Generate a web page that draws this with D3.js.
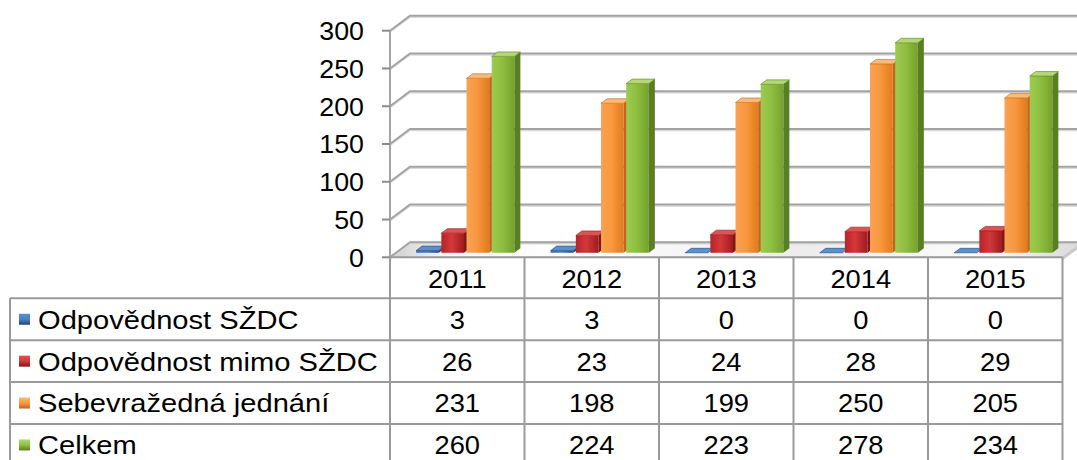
<!DOCTYPE html>
<html>
<head>
<meta charset="utf-8">
<script src="https://cdn.jsdelivr.net/npm/d3@7"></script>
<style>
  html, body { margin: 0; padding: 0; background: #fff; }
  svg { display: block; font-family: "Liberation Sans", Arial, sans-serif; }
</style>
</head>
<body>
<svg id="chart" width="1077" height="460"></svg>
<script>
const years = ['2011', '2012', '2013', '2014', '2015'];
const seriesNames = ['Odpovědnost SŽDC', 'Odpovědnost mimo SŽDC', 'Sebevražedná jednání', 'Celkem'];
const odpSzdc = [3, 3, 0, 0, 0];
const odpMimo = [26, 23, 24, 28, 29];
const sebevrazedna = [231, 198, 199, 250, 205];
const celkem = [260, 224, 223, 278, 234];
const yTicks = [0, 50, 100, 150, 200, 250, 300];

const seriesValues = [odpSzdc, odpMimo, sebevrazedna, celkem];

// office-2007 style shades: front gradient (left, mid, right), side, top
const shades = [
  { front: ['#3b6fb0', '#4a80c2', '#255391'], side: '#1e4477', top: '#5c8fcd' },
  { front: ['#b82327', '#d3393b', '#a01b1e'], side: '#84161a', top: '#dc5552' },
  { front: ['#f7a253', '#f8983f', '#e27b1c'], side: '#c3661a', top: '#fbb97a' },
  { front: ['#9ccb50', '#8fbf40', '#76a22c'], side: '#587f22', top: '#b3d874' }
];

const svg = d3.select('#chart');
const defs = svg.append('defs');

// layout
const plotLeft = 390, plotRight = 1062.5;
const DX = 20, DY = -15;          // depth offset of the back wall
const barZ0 = 0.3, barZ1 = 0.6;   // bar depth inside the floor
const tableLeft = 10;
const headerTop = 257.3;
const rowTop = 298.3, rowH = 41.9;

const x = d3.scaleBand().domain(years).range([plotLeft, plotRight]);
const bw = x.bandwidth();
const xs = d3.scaleBand().domain(seriesNames).range([0.15 * bw, 0.88 * bw]).paddingInner(0.1);
const y = d3.scaleLinear().domain([0, 300]).range([257.3, 30.7]);

// oblique projection
const P = (px, v, z) => [px + z * DX, y(v) + z * DY];
const poly = pts => 'M' + pts.map(p => p.join(',')).join('L') + 'Z';

// stretched text helper (reference text is a bit wider than normal)
function label(g, text, tx, ty, anchor, size, sx) {
  return g.append('text')
    .attr('transform', `translate(${tx},${ty}) scale(${sx},1)`)
    .attr('text-anchor', anchor)
    .attr('dy', '0.36em')
    .attr('font-size', size)
    .attr('fill', '#000')
    .text(text);
}

// gradients
shades.forEach((s, i) => {
  const lg = defs.append('linearGradient').attr('id', 'front' + i).attr('x1', 0).attr('x2', 1).attr('y1', 0).attr('y2', 0);
  lg.append('stop').attr('offset', 0).attr('stop-color', s.front[0]);
  lg.append('stop').attr('offset', 0.45).attr('stop-color', s.front[1]);
  lg.append('stop').attr('offset', 1).attr('stop-color', s.front[2]);
  const mk = defs.append('linearGradient').attr('id', 'mark' + i).attr('x1', 0).attr('x2', 0).attr('y1', 0).attr('y2', 1);
  mk.append('stop').attr('offset', 0).attr('stop-color', s.top);
  mk.append('stop').attr('offset', 0.5).attr('stop-color', s.front[1]);
  mk.append('stop').attr('offset', 1).attr('stop-color', s.side);
});
const fg = defs.append('linearGradient').attr('id', 'floor').attr('x1', 0).attr('x2', 1).attr('y1', 0).attr('y2', 0);
[[0, '#cfcfcf'], [0.08, '#f6f6f6'], [0.25, '#ffffff'], [0.6, '#ececec'], [0.85, '#fcfcfc'], [1, '#d8d8d8']]
  .forEach(([o, c]) => fg.append('stop').attr('offset', o).attr('stop-color', c));

// floor
svg.append('path')
  .attr('d', poly([P(plotLeft, 0, 0), P(plotRight, 0, 0), P(plotRight, 0, 1), P(plotLeft, 0, 1)]))
  .attr('fill', 'url(#floor)')
  .attr('stroke', '#c4c4c4').attr('stroke-width', 1);
svg.append('path')
  .attr('d', poly([P(plotRight, 0, 0), P(plotRight, 0, 1), [plotRight + DX, y(0) + DY + 3], [plotRight, y(0) + 3]]))
  .attr('fill', '#c8c8c8');

// gridlines: side wall diagonal + back wall
const grid = svg.append('g');
yTicks.forEach(v => {
  const a = P(plotLeft, v, 0), b = P(plotLeft, v, 1), c = P(plotRight, v, 1);
  grid.append('path')
    .attr('d', `M${a[0]},${a[1] + 1.5}L${b[0]},${b[1] + 1.5}L${c[0]},${c[1] + 1.5}`)
    .attr('fill', 'none').attr('stroke', '#dadada').attr('stroke-width', 1.5);
  grid.append('path')
    .attr('d', `M${a[0]},${a[1]}L${b[0]},${b[1]}L${c[0]},${c[1]}`)
    .attr('fill', 'none').attr('stroke', '#a3a3a3').attr('stroke-width', 2);
});

// bars
const bars = svg.append('g');
years.forEach((yr, ci) => {
  seriesNames.forEach((name, si) => {
    const v = seriesValues[si][ci];
    const xl = x(yr) + xs(name), xr = xl + xs.bandwidth();
    const s = shades[si];
    bars.append('path')
      .attr('d', poly([P(xl, 0, barZ0), P(xr, 0, barZ0), P(xr, v, barZ0), P(xl, v, barZ0)]))
      .attr('fill', `url(#front${si})`);
    bars.append('path')
      .attr('d', poly([P(xr, 0, barZ0), P(xr, 0, barZ1), P(xr, v, barZ1), P(xr, v, barZ0)]))
      .attr('fill', s.side);
    bars.append('path')
      .attr('d', poly([P(xl, v, barZ0), P(xr, v, barZ0), P(xr, v, barZ1), P(xl, v, barZ1)]))
      .attr('fill', s.top).attr('stroke', s.side).attr('stroke-width', 0.6);
  });
});

// value axis
const axis = svg.append('g');
axis.append('line')
  .attr('x1', plotLeft).attr('x2', plotLeft).attr('y1', y(300)).attr('y2', y(0))
  .attr('stroke', '#a3a3a3').attr('stroke-width', 2);
yTicks.forEach(v => {
  axis.append('line')
    .attr('x1', plotLeft - 8).attr('x2', plotLeft).attr('y1', y(v)).attr('y2', y(v))
    .attr('stroke', '#8c8c8c').attr('stroke-width', 2);
  label(axis, String(v), 364, y(v), 'end', 26, 1.03);
});

// data table
const table = svg.append('g');
const lineCol = '#9a9a9a';
table.append('line')
  .attr('x1', plotLeft).attr('x2', plotRight).attr('y1', headerTop).attr('y2', headerTop)
  .attr('stroke', lineCol).attr('stroke-width', 2);
seriesNames.forEach((n, i) => {
  table.append('line')
    .attr('x1', tableLeft).attr('x2', plotRight).attr('y1', rowTop + i * rowH).attr('y2', rowTop + i * rowH)
    .attr('stroke', lineCol).attr('stroke-width', 2);
});
years.concat(['end']).forEach(yr => {
  const xv = yr === 'end' ? plotRight : x(yr);
  table.append('line')
    .attr('x1', xv).attr('x2', xv).attr('y1', headerTop).attr('y2', 460)
    .attr('stroke', lineCol).attr('stroke-width', 2);
});
table.append('line')
  .attr('x1', tableLeft).attr('x2', tableLeft).attr('y1', rowTop).attr('y2', 460)
  .attr('stroke', lineCol).attr('stroke-width', 2);

years.forEach(yr => {
  label(table, yr, x(yr) + bw / 2, (headerTop + rowTop) / 2 + 1, 'middle', 26, 1.05);
});
seriesNames.forEach((name, si) => {
  const cy = rowTop + si * rowH + rowH / 2;
  table.append('rect')
    .attr('x', 19).attr('y', cy - 5.5).attr('width', 11).attr('height', 11)
    .attr('fill', `url(#mark${si})`);
  label(table, name, 38, cy, 'start', 26, 1.12);
  years.forEach((yr, ci) => {
    label(table, String(seriesValues[si][ci]), x(yr) + bw / 2, cy, 'middle', 26, 1.05);
  });
});
</script>
</body>
</html>
